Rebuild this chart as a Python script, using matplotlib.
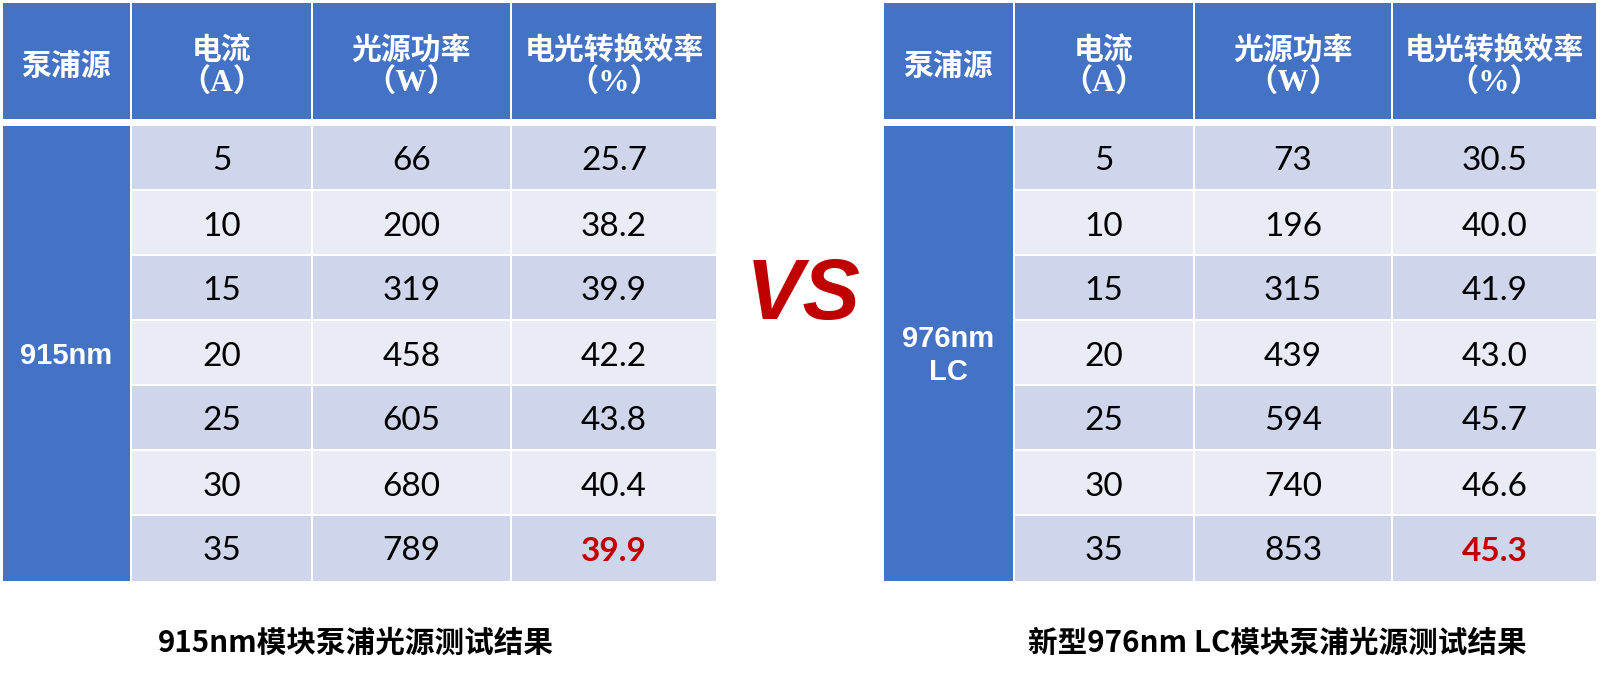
import matplotlib
matplotlib.use("Agg")
import matplotlib.pyplot as plt
from matplotlib.patches import Rectangle

# ---- data ----
headers = ["泵浦源", "电流\n（A）", "光源功率\n（W）", "电光转换效率\n（%）"]
currents = [5, 10, 15, 20, 25, 30, 35]
power_915 = [66, 200, 319, 458, 605, 680, 789]
eff_915 = ["25.7", "38.2", "39.9", "42.2", "43.8", "40.4", "39.9"]
power_976 = [73, 196, 315, 439, 594, 740, 853]
eff_976 = ["30.5", "40.0", "41.9", "43.0", "45.7", "46.6", "45.3"]
source_915 = "915nm"
source_976 = "976nm\nLC"
caption_915 = "915nm模块泵浦光源测试结果"
caption_976 = "新型976nm LC模块泵浦光源测试结果"
vs_text = "VS"

# ---- style ----
W, H = 1616, 675
HEAD = "#4472C4"
DARK = "#CFD5EA"
LIGHT = "#E9EBF5"
RED = "#C00000"
CJK = ["Noto Sans CJK SC", "DejaVu Sans"]

fig = plt.figure(figsize=(W / 100, H / 100), dpi=100)
ax = fig.add_axes([0, 0, 1, 1])
ax.set_xlim(0, W)
ax.set_ylim(H, 0)
ax.axis("off")

HEAD_TOP, HEAD_BOT = 3, 119
BODY_TOP, ROW_H, GAP = 126, 65, 2


def draw_table(x_edges, powers, effs, source):
    # header
    for c in range(4):
        x0, x1 = x_edges[c], x_edges[c + 1]
        ax.add_patch(Rectangle((x0 + 1, HEAD_TOP), x1 - x0 - 2, HEAD_BOT - HEAD_TOP,
                               facecolor=HEAD, edgecolor="none"))
        cx = (x0 + x1) / 2
        lines = headers[c].split("\n")
        if len(lines) == 1:
            ax.text(cx, 66, lines[0], ha="center", va="center", color="white",
                    fontsize=21.5, fontweight="bold", family=CJK)
        else:
            ax.text(cx, 50, lines[0], ha="center", va="center", color="white",
                    fontsize=21.5, fontweight="bold", family=CJK)
            ax.text(cx, 84, lines[1], ha="center", va="center", color="white",
                    fontsize=22.5, fontweight="bold",
                    family=["Liberation Serif", "Noto Sans CJK SC"])
    # first column body
    body_bot = BODY_TOP + ROW_H * len(currents)
    x0, x1 = x_edges[0], x_edges[1]
    ax.add_patch(Rectangle((x0 + 1, BODY_TOP), x1 - x0 - 2, body_bot - BODY_TOP,
                           facecolor=HEAD, edgecolor="none"))
    ax.text((x0 + x1) / 2, (BODY_TOP + body_bot) / 2 + 2, source, ha="center",
            va="center", color="white", fontsize=21, fontweight="bold",
            family="Liberation Sans", linespacing=1.25)
    # body rows
    for r in range(len(currents)):
        top = BODY_TOP + ROW_H * r
        h = ROW_H - GAP if r < len(currents) - 1 else ROW_H
        color = DARK if r % 2 == 0 else LIGHT
        vals = [str(currents[r]), str(powers[r]), effs[r]]
        for c in range(1, 4):
            cx0, cx1 = x_edges[c], x_edges[c + 1]
            ax.add_patch(Rectangle((cx0 + 1, top), cx1 - cx0 - 2, h,
                                   facecolor=color, edgecolor="none"))
            last = (r == len(currents) - 1 and c == 3)
            ax.text((cx0 + cx1) / 2, top + (ROW_H - GAP) / 2 + 4, vals[c - 1],
                    ha="center", va="center",
                    color=RED if last else "black",
                    fontweight="bold" if last else "normal",
                    fontsize=24, family="Lato")


draw_table([2, 131, 312, 511, 717], power_915, eff_915, source_915)
draw_table([883, 1014, 1194, 1392, 1597], power_976, eff_976, source_976)

ax.text(803, 297, vs_text, ha="center", va="center", color=RED, fontsize=62,
        fontweight="bold", fontstyle="italic", family="Liberation Sans")

ax.text(356, 643, caption_915, ha="center", va="center", color="black",
        fontsize=21.3, fontweight="bold", family=CJK)
ax.text(1277, 643, caption_976, ha="center", va="center", color="black",
        fontsize=21.3, fontweight="bold", family=CJK)

fig.savefig("out.png", dpi=100, facecolor="white")
